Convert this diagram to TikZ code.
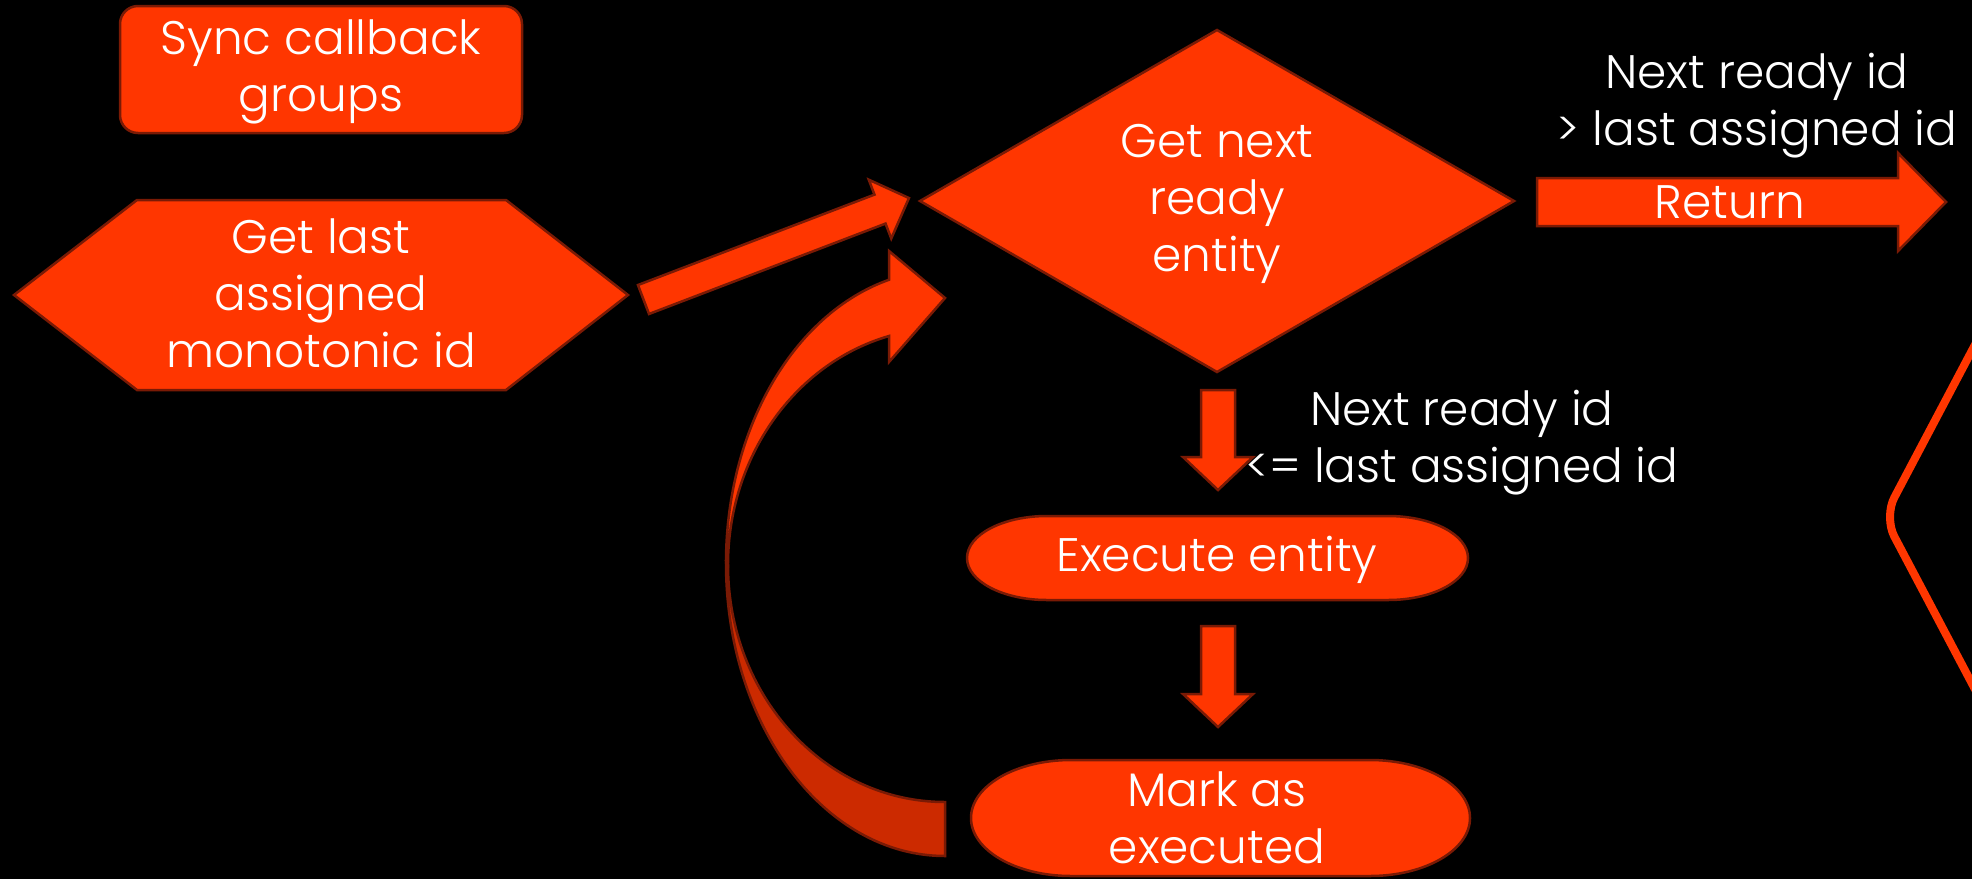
\documentclass[tikz,border=0pt]{standalone}
\usepackage{fontspec}
\setmainfont{Poppins Light}
\definecolor{orb}{HTML}{FF3600}
\definecolor{orbdark}{HTML}{CC2A00}
\definecolor{edge}{HTML}{7A1A05}
\tikzset{
  shp/.style={fill=orb, draw=edge, line width=2.5pt, line join=miter},
  shpdark/.style={fill=orbdark, draw=edge, line width=2.5pt},
  lbl/.style={text=white, font=\fontsize{47}{57}\selectfont, align=center, inner sep=0pt},
  pics/blockarrow/.style n args={4}{code={
    \draw[shp] (0,-#2) -- ({#1-#4},-#2) -- ({#1-#4},-#3) -- (#1,0) -- ({#1-#4},#3) -- ({#1-#4},#2) -- (0,#2) -- cycle;}}
}
\begin{document}
\begin{tikzpicture}[x=1pt,y=-1pt]
\useasboundingbox (0,0) rectangle (1972,879);
\fill[black] (0,0) rectangle (1972,879);

% partial outline shape at the right edge
\begin{scope}
\clip (0,0) rectangle (1972,879);
\draw[draw=orb, line width=8pt, rounded corners=22pt] (2100,108) -- (1884,517) -- (2100,926);
\end{scope}

% Sync callback groups
\draw[shp, rounded corners=18pt] (120,6) rectangle (522,133);
\node[lbl] (sync) at (321,72) {Sync callback\\groups};

% hexagon
\draw[shp] (14,295) -- (137,200) -- (506,200) -- (628,295) -- (506,390) -- (137,390) -- cycle;
\node[lbl] (hex) at (321,293) {Get last\\assigned\\monotonic id};

% diamond
\draw[shp] (1217,30) -- (1514,201) -- (1217,372) -- (920,201) -- cycle;
\node[lbl] (next) at (1217,204) {Get next\\ready\\entity};

% diagonal arrow hexagon -> diamond
\coordinate (a1) at (643.5,299.5);
\pic[rotate=20.92] at (a1) {blockarrow={284.2}{15.5}{31.5}{31}};

% return arrow
\coordinate (r1) at (1537,202);
\pic at (r1) {blockarrow={409}{24}{49}{48}};
\node[lbl] (ret) at (1730,202) {Return};
\node[lbl] (gt) at (1757,106) {Next ready id\\> last assigned id};

% down arrows
\coordinate (d1) at (1218,390);
\pic[rotate=-90] at (d1) {blockarrow={100}{17}{35}{33}};
\node[lbl] (le) at (1462,443) {Next ready id\\<= last assigned id};
\coordinate (d2) at (1218,626);
\pic[rotate=-90] at (d2) {blockarrow={101}{17}{35}{33}};

% Execute entity
\draw[shp] (1047,516) -- (1388,516) arc[start angle=-90, end angle=90, x radius=80, y radius=42]
  -- (1047,600) arc[start angle=90, end angle=270, x radius=80, y radius=42] -- cycle;
\node[lbl] (exec) at (1217,560) {Execute entity};

% Mark as executed
\draw[shp] (1071,760) -- (1370,760) arc[start angle=-90, end angle=90, x radius=100, y radius=58]
  -- (1071,876) arc[start angle=90, end angle=270, x radius=100, y radius=58] -- cycle;
\node[lbl] (mark) at (1217,818) {Mark as\\executed};

% curved loop arrow
\draw[shpdark] (945,856) arc[start angle=90, end angle=180, x radius=219, y radius=293]
  -- (728,565) arc[start angle=180, end angle=90, x radius=217, y radius=237] -- cycle;
\draw[shp] (726,563) arc[start angle=180, end angle=255.18, x radius=219, y radius=293]
  -- (889,251) -- (945,298) -- (889,362) -- (889,336)
  arc[start angle=255.05, end angle=180, x radius=217, y radius=237] -- cycle;
\end{tikzpicture}
\end{document}
